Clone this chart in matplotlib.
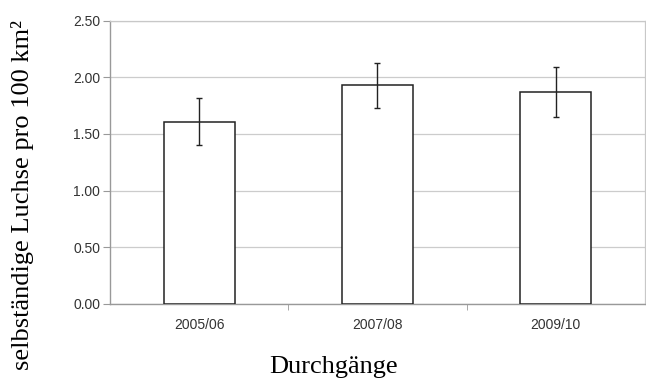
import matplotlib
matplotlib.use('Agg')
import matplotlib.pyplot as plt

periods = ['2005/06', '2007/08', '2009/10']
density = [1.61, 1.93, 1.87]
error = [0.21, 0.20, 0.22]

fig = plt.figure(figsize=(6.46, 3.81), dpi=100)
ax = fig.add_axes([0.1703, 0.2021, 0.828, 0.7437])

x = range(len(periods))
ax.bar(x, density, width=0.40, color='white', edgecolor='#222222', linewidth=1.1, zorder=3)
ax.errorbar(x, density, yerr=error, fmt='none', ecolor='#222222', elinewidth=1.0,
            capsize=2.5, capthick=1.0, zorder=4)

ax.set_xlim(-0.5, 2.5)
ax.set_ylim(0, 2.5)
ax.set_yticks([0, 0.5, 1.0, 1.5, 2.0, 2.5])
ax.set_yticklabels(['%.2f' % v for v in ax.get_yticks()])
ax.yaxis.grid(True, color='#cccccc', linewidth=0.9, zorder=0)

ax.set_xticks(list(x))
ax.set_xticklabels(periods)
ax.set_xticks([0.5, 1.5], minor=True)
ax.tick_params(axis='x', which='major', length=0, pad=10)
ax.tick_params(axis='x', which='minor', length=4, color='#999999')
ax.tick_params(axis='y', length=5, color='#999999', pad=2)
for lab in ax.get_xticklabels() + ax.get_yticklabels():
    lab.set_fontfamily('Liberation Sans')
    lab.set_fontsize(10)
    lab.set_color('#333333')

for side in ['left', 'bottom']:
    ax.spines[side].set_color('#999999')
    ax.spines[side].set_linewidth(1.0)
for side in ['top', 'right']:
    ax.spines[side].set_color('#c8c8c8')
    ax.spines[side].set_linewidth(0.9)

# axis titles sit outside the plot, placed on the figure
fig.text(23 / 646, 1 - 195 / 381, 'selbständige Luchse pro 100 km²', family='Liberation Serif',
         fontsize=19, rotation=90, ha='center', va='center')
fig.text(334 / 646, 1 - 367 / 381, 'Durchgänge', family='Liberation Serif',
         fontsize=19, ha='center', va='center')

fig.savefig('out.png', dpi=100)
